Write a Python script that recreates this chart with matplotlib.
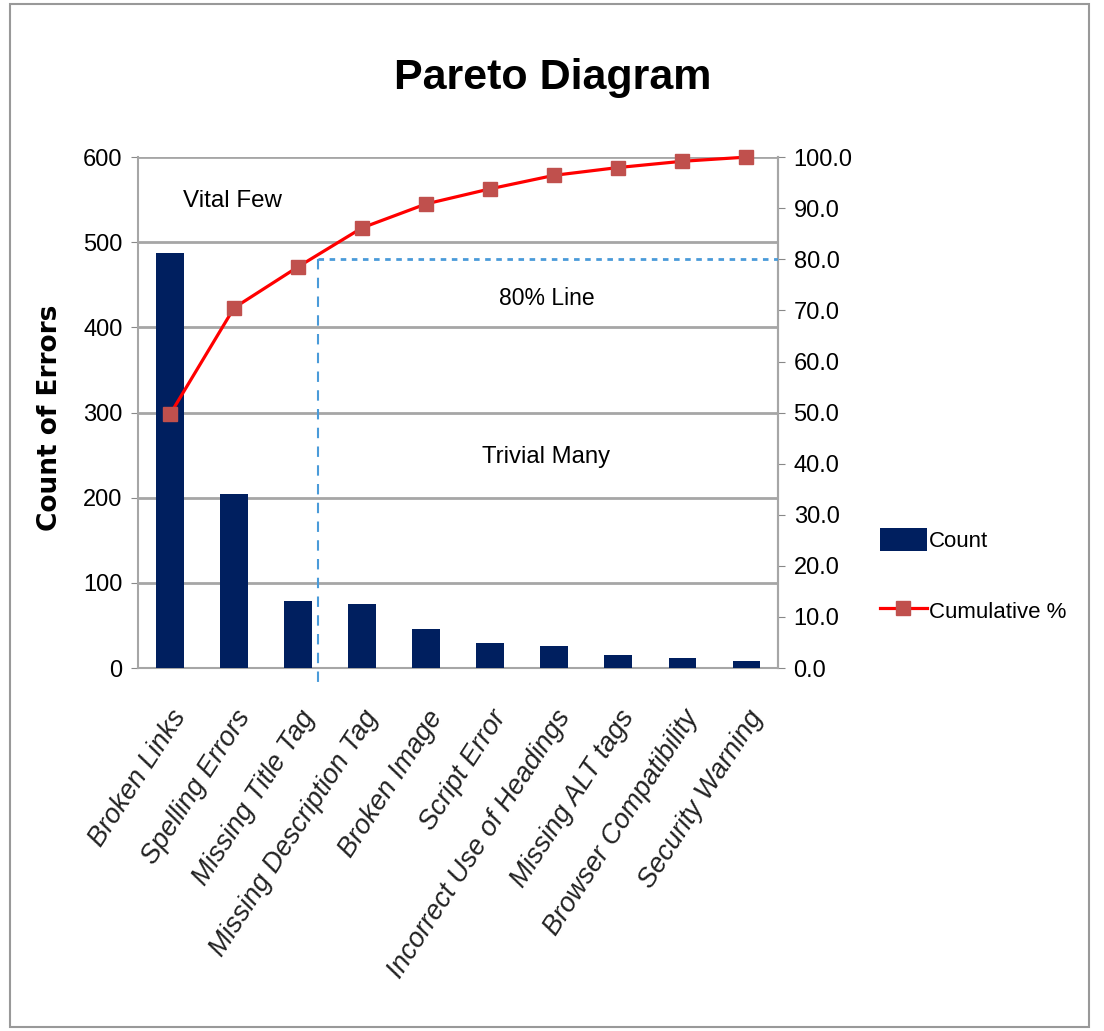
import numpy as np
import matplotlib
matplotlib.use("Agg")
import matplotlib.pyplot as plt
from matplotlib.patches import Rectangle

# Donnees
categories = ['Broken Links', 'Spelling Errors', 'Missing Title Tag', 'Missing Description Tag',
              'Broken Image', 'Script Error', 'Incorrect Use of Headings', 'Missing ALT tags',
              'Browser Compatibility', 'Security Warning']
counts = [488, 205, 79, 75, 46, 29, 26, 15, 12, 8]
cumul = np.cumsum(counts) / np.sum(counts) * 100
left_ticks = [0, 100, 200, 300, 400, 500, 600]
right_ticks = [0, 10, 20, 30, 40, 50, 60, 70, 80, 90, 100]

plt.rcParams['font.family'] = ['Liberation Sans', 'DejaVu Sans']

fig = plt.figure(figsize=(11.04, 10.31), dpi=100)
fig.patches.append(Rectangle((0.009, 0.004), 0.977, 0.992, transform=fig.transFigure,
                             fill=False, edgecolor='#999999', lw=1.5))

ax = fig.add_axes([0.125, 0.352, 0.58, 0.4956])
x = np.arange(len(categories))

# Barres
ax.bar(x, counts, width=0.43, color='#001F5F', zorder=3, label='Count')
ax.set_xlim(-0.5, len(categories) - 0.5)
ax.set_ylim(0, 600)
ax.set_yticks(left_ticks)
ax.tick_params(axis='y', labelsize=17, length=5, color='#888888', pad=6)
ax.tick_params(axis='x', length=0, pad=27)
ax.set_xticks(x)
ax.set_xticklabels(categories, rotation=57, ha='right', rotation_mode='anchor',
                   style='italic', fontsize=19.5, color='#222222')
ax.yaxis.grid(True, color='#A6A6A6', lw=2, zorder=0)
ax.spines['top'].set_visible(False)
for s in ['left', 'bottom', 'right']:
    ax.spines[s].set_color('#A6A6A6')
    ax.spines[s].set_linewidth(1.5)
ax.set_ylabel('Count of Errors', fontsize=19, fontweight='bold', family='DejaVu Sans')
ax.yaxis.set_label_coords(-0.117, 0.49)

# Courbe cumulee
ax2 = ax.twinx()
ax2.plot(x, cumul, color='#FF0000', lw=2.3, marker='s', markersize=10,
         markerfacecolor='#C0504D', markeredgecolor='#C0504D', zorder=4,
         label='Cumulative %', clip_on=False)
ax2.set_ylim(0, 100)
ax2.set_yticks(right_ticks)
ax2.set_yticklabels([f'{v:.1f}' for v in right_ticks])
ax2.tick_params(axis='y', labelsize=17, length=5, color='#888888', pad=6)
for s in ['top', 'left', 'bottom']:
    ax2.spines[s].set_visible(False)
ax2.spines['right'].set_color('#A6A6A6')
ax2.spines['right'].set_linewidth(1.5)

# Ligne des 80%
x80 = 2.31
ax2.plot([x80, len(categories) - 0.5], [80, 80], color='#4A9BD9', lw=2, ls=(0, (2, 2)), zorder=5)
ax2.plot([x80, x80], [80, -3.5], color='#4A9BD9', lw=1.5, ls=(0, (5, 4)), zorder=5,
         clip_on=False)

ax.text(0.98, 549, 'Vital Few', fontsize=17.4, ha='center', va='center', zorder=6)
ax.text(5.89, 434, '80% Line', fontsize=16.5, ha='center', va='center', zorder=6)
ax.text(5.875, 248, 'Trivial Many', fontsize=17.2, ha='center', va='center', zorder=6)

fig.text(0.501, 0.924, 'Pareto Diagram', fontsize=31, fontweight='bold',
         ha='center', va='center')

h1, l1 = ax.get_legend_handles_labels()
h2, l2 = ax2.get_legend_handles_labels()
fig.legend(h1 + h2, l1 + l2, loc='center left', bbox_to_anchor=(0.779, 0.442),
           frameon=False, fontsize=16, handlelength=2.1, handletextpad=0.1,
           labelspacing=2.1, handleheight=1.2)

fig.savefig('out.png', dpi=100)
